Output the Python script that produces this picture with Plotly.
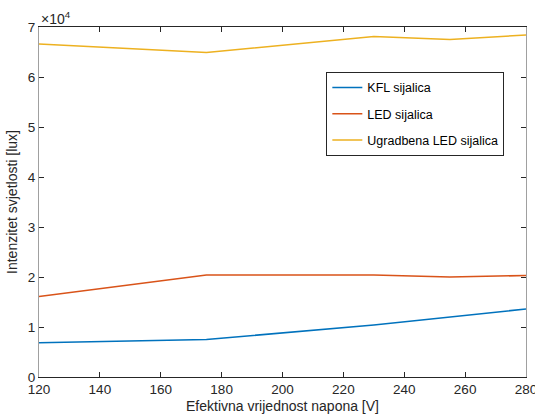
import plotly.graph_objects as go

napon = [120, 175, 230, 255, 280]
kfl = [6860, 7500, 10400, 12000, 13600]
led = [16100, 20400, 20400, 20000, 20300]
ugradbena = [66600, 64900, 68100, 67500, 68400]

series_names = ["KFL sijalica", "LED sijalica", "Ugradbena LED sijalica"]
series_values = [kfl, led, ugradbena]
colors = ["#0072BD", "#D95319", "#EDB120"]

x_ticks = [120, 140, 160, 180, 200, 220, 240, 260, 280]
y_ticks = [0, 10000, 20000, 30000, 40000, 50000, 60000, 70000]
y_tick_labels = ["0", "1", "2", "3", "4", "5", "6", "7"]

fig = go.Figure()
for i, (name, vals, col) in enumerate(zip(series_names, series_values, colors)):
    fig.add_trace(go.Scatter(x=napon, y=vals, mode="lines", name=name,
                             legendgroup=f"g{i}",
                             line=dict(color=col, width=1.6)))

font = "Liberation Sans, Arial, sans-serif"
fig.update_layout(
    width=535, height=418,
    margin=dict(l=39, r=9, t=27, b=41),
    paper_bgcolor="white", plot_bgcolor="white",
    font=dict(family=font, size=13.5, color="#262626"),
    showlegend=True,
    legend=dict(x=0.59, y=0.872, xanchor="left", yanchor="top",
                bordercolor="#262626", borderwidth=1, bgcolor="white",
                font=dict(size=12.5, color="#000000"),
                itemwidth=30,
                tracegroupgap=7, traceorder="grouped"),
    xaxis=dict(range=[120, 280], tickvals=x_ticks, ticks="inside", ticklen=5,
               showline=True, linecolor="#262626", linewidth=1, mirror="ticks",
               tickcolor="#262626", showgrid=False, zeroline=False,
               automargin=False, ticklabeloverflow="allow",
               title=dict(text="Efektivna vrijednost napona [V]", standoff=4,
                          font=dict(size=14))),
    yaxis=dict(range=[0, 70000], tickvals=y_ticks, ticktext=y_tick_labels,
               ticks="inside", ticklen=5, showline=True, linecolor="#a0a0a0",
               linewidth=1, mirror="ticks", tickcolor="#262626",
               showgrid=False, zeroline=False, automargin=False,
               ticklabeloverflow="allow",
               title=dict(text="Intenzitet svjetlosti [lux]", standoff=6,
                          font=dict(size=14))),
)
fig.add_annotation(text="×10<sup>4</sup>", xref="paper", yref="paper",
                   x=0, y=1, xanchor="left", yanchor="bottom", showarrow=False,
                   font=dict(size=14, color="#262626"), yshift=-2)
fig.write_html("out.html")
